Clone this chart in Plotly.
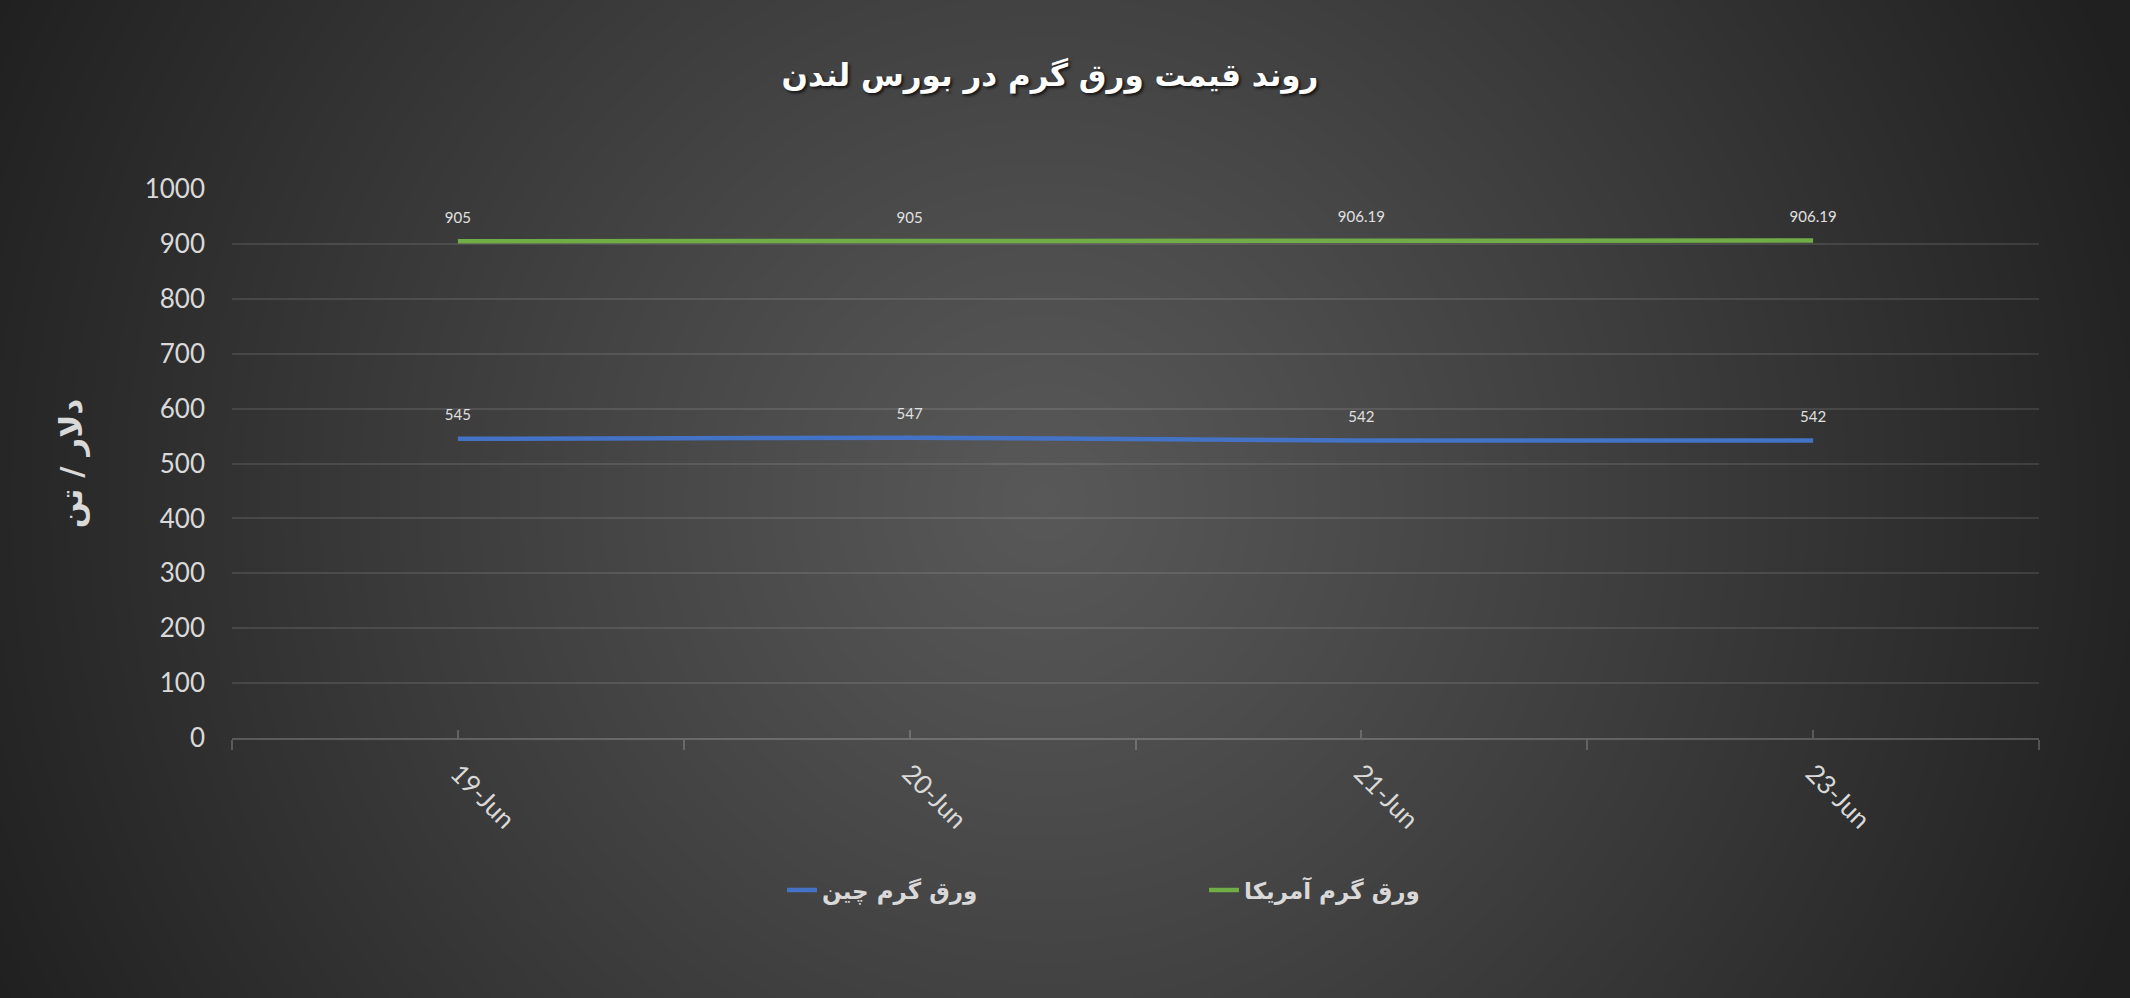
import base64, struct, zlib
import numpy as np
import plotly.graph_objects as go

# ---- data ----
dates = ["19-Jun", "20-Jun", "21-Jun", "23-Jun"]
china = [545, 547, 542, 542]
usa = [905, 905, 906.19, 906.19]
series_names = ["ورق گرم چین", "ورق گرم آمریکا"]
title_text = "روند قیمت ورق گرم در بورس لندن"
y_title = "دلار / تن"
y_ticks = [0, 100, 200, 300, 400, 500, 600, 700, 800, 900, 1000]

W, H = 2130, 998
ML, MR, MT, MB = 232, 91, 189, 260


def gradient_uri(w, h):
    yy, xx = np.mgrid[0:h, 0:w].astype(float)
    cx, cy = w * 0.49, h * 0.5
    d = np.sqrt((xx - cx) ** 2 + (yy - cy) ** 2) / np.sqrt(cx ** 2 + cy ** 2)
    d = np.clip(d, 0, 1)
    c = 88 - 56 * d ** 1.1
    arr = np.repeat(c[:, :, None], 3, axis=2).round().astype(np.uint8)
    raw = b"".join(b"\x00" + arr[i].tobytes() for i in range(h))

    def chunk(t, data):
        out = struct.pack(">I", len(data)) + t + data
        return out + struct.pack(">I", zlib.crc32(t + data) & 0xFFFFFFFF)

    png = (b"\x89PNG\r\n\x1a\n"
           + chunk(b"IHDR", struct.pack(">IIBBBBB", w, h, 8, 2, 0, 0, 0))
           + chunk(b"IDAT", zlib.compress(raw, 9))
           + chunk(b"IEND", b""))
    return "data:image/png;base64," + base64.b64encode(png).decode()


pw, ph = W - ML - MR, H - MT - MB
arabic = "DejaVu Sans"
latin = "Lato"
grid = "rgba(217,217,217,0.13)"
axis_col = "rgba(217,217,217,0.25)"
hidden_marker = dict(size=22, color="rgba(0,0,0,0)")

fig = go.Figure()
fig.add_trace(go.Scatter(
    x=dates, y=china, name=series_names[0], mode="lines+markers+text",
    line=dict(color="#4472C4", width=4.5), marker=hidden_marker,
    text=[f"{v:g}" for v in china], textposition="top center",
    textfont=dict(family=latin, size=15, color="#e0e0e0"),
    xaxis="x", yaxis="y",
))
fig.add_trace(go.Scatter(
    x=dates, y=usa, name=series_names[1], mode="lines+markers+text",
    line=dict(color="#70AD47", width=4.5), marker=hidden_marker,
    text=[f"{v:g}" for v in usa], textposition="top center",
    textfont=dict(family=latin, size=15, color="#e0e0e0"),
    xaxis="x2", yaxis="y",
))

fig.update_layout(
    width=W, height=H,
    margin=dict(l=ML, r=MR, t=MT, b=MB),
    paper_bgcolor="#3c3c3c",
    plot_bgcolor="rgba(0,0,0,0)",
    images=[dict(
        source=gradient_uri(1065, 499), xref="paper", yref="paper",
        x=-ML / pw, y=1 + MT / ph, sizex=W / pw, sizey=H / ph,
        xanchor="left", yanchor="top", sizing="stretch", layer="below",
    )],
    title=dict(
        text=title_text, x=1050 / W, xanchor="center",
        y=1 - 75 / H, yanchor="middle", yref="container",
        font=dict(family=arabic, size=31, color="#ffffff", weight="bold",
                  shadow="2px 2px 3px rgba(0,0,0,0.7)"),
    ),
    xaxis=dict(
        type="category", categoryorder="array", categoryarray=dates,
        range=[-0.5, len(dates) - 0.5],
        showgrid=False, zeroline=False,
        showline=True, linecolor=axis_col, linewidth=1.5,
        ticks="outside", tickson="boundaries", ticklen=10, tickwidth=1.5,
        tickcolor=axis_col,
        tickangle=45, ticklabelstandoff=8,
        tickfont=dict(family=latin, size=26, color="#d9d9d9"),
    ),
    xaxis2=dict(
        type="category", categoryorder="array", categoryarray=dates,
        matches="x", overlaying="x", side="bottom",
        showgrid=False, zeroline=False, showline=False,
        showticklabels=False,
        ticks="inside", ticklen=8, tickwidth=1.5,
        tickcolor=axis_col,
    ),
    yaxis=dict(
        range=[0, 1000], tickvals=y_ticks,
        showgrid=True, gridcolor=grid, gridwidth=1.5,
        zeroline=False, showline=False, ticks="",
        ticklabelstandoff=26,
        tickfont=dict(family=latin, size=26, color="#d9d9d9"),
        title=dict(text=y_title, standoff=52,
                   font=dict(family=arabic, size=31, color="#d9d9d9", weight="bold")),
    ),
    legend=dict(
        orientation="h", xref="container", yref="container",
        x=782 / W, xanchor="left", y=1 - 890 / H, yanchor="middle",
        entrywidth=377, entrywidthmode="pixels",
        font=dict(family=arabic, size=23, color="#d9d9d9", weight="bold"),
        bgcolor="rgba(0,0,0,0)",
    ),
    showlegend=True,
    hovermode=False,
)

fig.write_html("out.html", config={"displayModeBar": False},
               post_script="document.body.style.margin='0';")
